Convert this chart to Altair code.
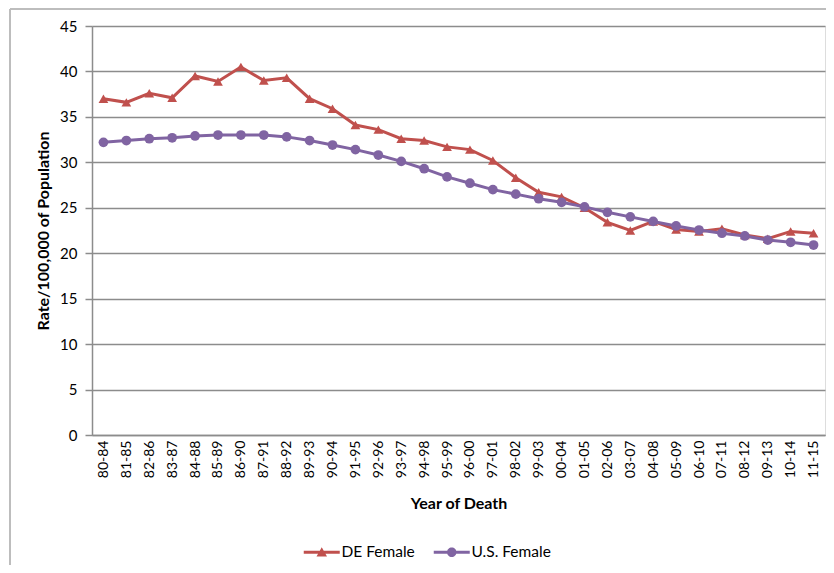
import altair as alt
import pandas as pd

periods = ["80-84", "81-85", "82-86", "83-87", "84-88", "85-89", "86-90", "87-91",
           "88-92", "89-93", "90-94", "91-95", "92-96", "93-97", "94-98", "95-99",
           "96-00", "97-01", "98-02", "99-03", "00-04", "01-05", "02-06", "03-07",
           "04-08", "05-09", "06-10", "07-11", "08-12", "09-13", "10-14", "11-15"]
de_female = [37.0, 36.6, 37.6, 37.1, 39.5, 38.9, 40.5, 39.0,
             39.3, 37.0, 35.9, 34.1, 33.6, 32.6, 32.4, 31.7,
             31.4, 30.2, 28.3, 26.7, 26.2, 25.0, 23.4, 22.5,
             23.5, 22.6, 22.4, 22.7, 22.0, 21.6, 22.4, 22.2]
us_female = [32.2, 32.4, 32.6, 32.7, 32.9, 33.0, 33.0, 33.0,
             32.8, 32.4, 31.9, 31.4, 30.8, 30.1, 29.3, 28.4,
             27.7, 27.0, 26.5, 26.0, 25.6, 25.1, 24.5, 24.0,
             23.5, 23.0, 22.55, 22.2, 21.9, 21.45, 21.2, 20.9]
series_names = ["DE Female", "U.S. Female"]
series_colors = ["#C0504D", "#8064A2"]
series_markers = ["triangle-up", "circle"]
y_ticks = [0, 5, 10, 15, 20, 25, 30, 35, 40, 45]

rows = []
for name, vals in zip(series_names, [de_female, us_female]):
    for p, v in zip(periods, vals):
        rows.append({"period": p, "rate": v, "series": name})
df = pd.DataFrame(rows)

FONT = "Lato"
GRID = "#8C8C8C"

tri_path = "M-3.6,-0.3H3.6V0.3H-3.6Z M0,-1L1.05,0.85H-1.05Z"
circ_path = "M-3.6,-0.3H3.6V0.3H-3.6Z M0.95,0A0.95,0.95 0 1,1 -0.95,0A0.95,0.95 0 1,1 0.95,0Z"

legend = alt.Legend(
    title=None, orient="none", legendX=222, legendY=518, direction="horizontal",
    labelFont=FONT, labelFontSize=15.5, labelColor="#000000",
    symbolSize=100, symbolStrokeWidth=0, labelOffset=12, columnPadding=18,
)

x_enc = alt.X("period:N", sort=periods, title="Year of Death",
              axis=alt.Axis(labelAngle=270, labelFont=FONT, labelFontSize=14,
                            labelColor="#000000", labelPadding=5, ticks=False,
                            domainColor=GRID, domainWidth=1.5,
                            titleFont=FONT, titleFontSize=16, titleFontWeight="bold",
                            titleColor="#000000", titlePadding=18))
y_enc = alt.Y("rate:Q", title="Rate/100,000 of Population",
              scale=alt.Scale(domain=[0, 45], nice=False),
              axis=alt.Axis(values=y_ticks, labelFont=FONT, labelFontSize=15,
                            labelColor="#000000", labelPadding=8, tickSize=7,
                            tickColor=GRID, tickWidth=1.5, domainColor=GRID,
                            domainWidth=1.5, gridColor=GRID, gridWidth=1.5,
                            titleFont=FONT, titleFontSize=16, titleFontWeight="bold",
                            titleColor="#000000", titlePadding=8))
color_scale = alt.Scale(domain=series_names, range=series_colors)

legend_layer = alt.Chart(df).transform_filter("false").mark_point(filled=True, opacity=1).encode(
    color=alt.Color("series:N", scale=color_scale, legend=legend),
    shape=alt.Shape("series:N", scale=alt.Scale(domain=series_names,
                                                range=[tri_path, circ_path]),
                    legend=legend),
)

base = alt.Chart(df).encode(x=x_enc, y=y_enc,
                            color=alt.Color("series:N", scale=color_scale, legend=None))

layers = []
for name, marker in zip(series_names, series_markers):
    sub = base.transform_filter(alt.datum.series == name)
    layers.append(sub.mark_line(strokeWidth=3))
    layers.append(sub.mark_point(filled=True, size=95, opacity=1, shape=marker))

frame = alt.Chart(alt.Data(values=[{}]))
left_edge = frame.mark_rule(color="#BDBDBD", strokeWidth=2).encode(
    x=alt.value(-82), y=alt.value(-17), y2=alt.value(560))
top_edge = frame.mark_rule(color="#BDBDBD", strokeWidth=2).encode(
    x=alt.value(-82), x2=alt.value(760), y=alt.value(-17))

chart = alt.layer(legend_layer, left_edge, top_edge, *layers).properties(
    width=733, height=409,
    autosize=alt.AutoSizeParams(type="none"),
    padding={"left": 84, "top": 18, "right": 1, "bottom": 130},
).configure_view(stroke=None).configure(background="#FFFFFF")

chart.save("out.html", embed_options={"renderer": "svg", "actions": False})
